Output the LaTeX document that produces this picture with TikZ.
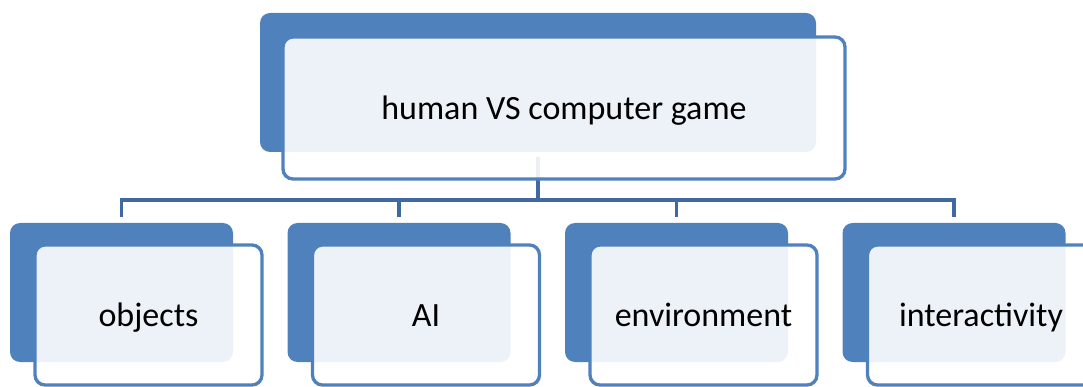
\documentclass[tikz,border=0pt]{standalone}
\usepackage{fontspec}
\setmainfont{Carlito}
\usetikzlibrary{positioning}
\definecolor{boxblue}{HTML}{4F81BD}
\definecolor{lineblue}{HTML}{3F69A0}

\begin{document}
\begin{tikzpicture}[x=1pt,y=-1pt,
  back/.style={fill=boxblue,rounded corners=10pt,inner sep=0pt,minimum height=139pt},
  front/.style={draw=boxblue,line width=3.3pt,fill=white,fill opacity=0.9,text opacity=1,
    rounded corners=10pt,inner sep=0pt,text height=29pt,text depth=6pt,
    font=\fontsize{34}{40}\selectfont},
  link/.style={draw=lineblue,line width=3.6pt}]

      \useasboundingbox (0,0) rectangle (1083,387);

      \node[back,minimum width=556pt] (Gb) at (538,82.5) {};
      \foreach \k in {0,...,3}
        \node[back,minimum width=223pt] (b\k) at (121.5+277.5*\k,292.5) {};

      \coordinate (bus) at (538,200);
      \draw[link] ([yshift=-5pt]Gb.south) -- (Gb.south |- bus);
      \draw[link] ([yshift=6pt]b0.north) |- (bus) -| ([yshift=6pt]b3.north);
      \draw[link] ([yshift=6pt]b1.north) -- (b1.north |- bus);
      \draw[link] ([yshift=6pt]b2.north) -- (b2.north |- bus);

      \node[front,minimum width=562pt,minimum height=142pt] (G) at (564,108) {human VS computer game};
      \foreach \lab [count=\k from 0] in {objects,AI,environment,interactivity}
        \node[front,minimum width=227pt,minimum height=140pt] (f\k) at (148.5+277.5*\k,315) {\lab};
  \end{tikzpicture}
\end{document}
